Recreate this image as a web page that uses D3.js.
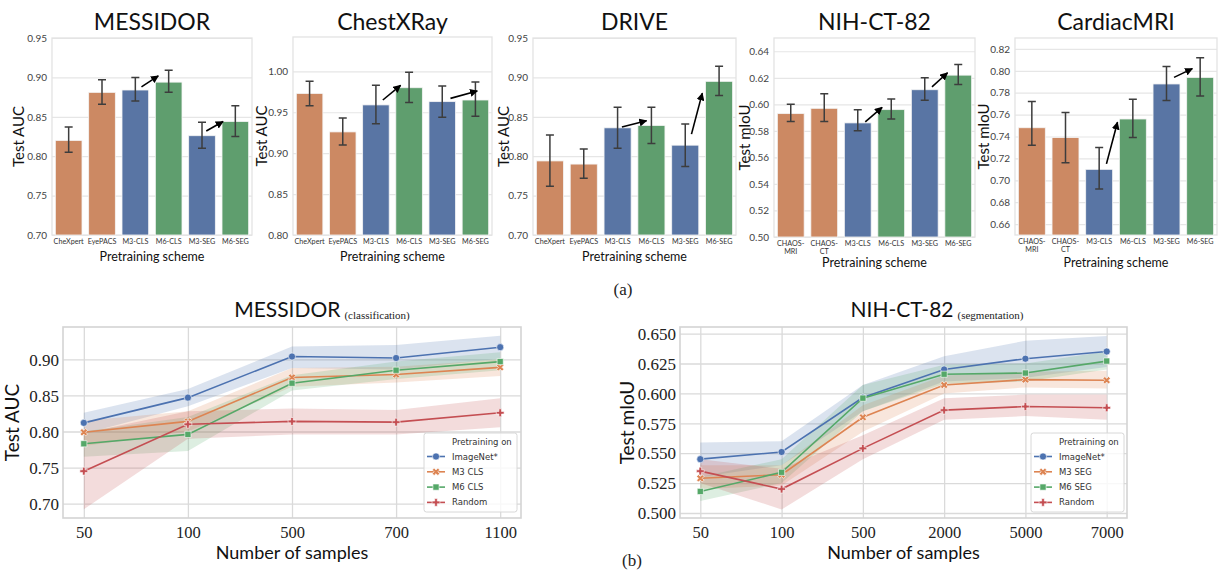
<!DOCTYPE html>
<html>
<head>
<meta charset="UTF-8">
<title>Pretraining charts</title>
<style>
  body { margin: 0; background: #fff; }
  svg { display: block; }
  .ttl { font-family: Lato, sans-serif; fill: #111; }
  .ser { font-family: "Liberation Serif", serif; fill: #222; }
  .ytk { font-family: Lato, sans-serif; font-size: 10px; fill: #444; }
  .xtk { font-family: Lato, sans-serif; font-size: 7.2px; fill: #333; }
  .lg { font-family: "DejaVu Sans", sans-serif; font-size: 8.5px; fill: #333; }
</style>
</head>
<body>
<svg width="1225" height="576"></svg>
<script src="https://d3js.org/d3.v7.min.js"></script>
<script>
// ---- top row: bar charts ----
const catsA = ["CheXpert", "EyePACS", "M3-CLS", "M6-CLS", "M3-SEG", "M6-SEG"];
const catsB = ["CHAOS-MRI", "CHAOS-CT", "M3-CLS", "M6-CLS", "M3-SEG", "M6-SEG"];

const messidorMean = [0.820, 0.881, 0.884, 0.894, 0.826, 0.844];
const messidorLo   = [0.805, 0.866, 0.870, 0.881, 0.810, 0.825];
const messidorHi   = [0.837, 0.897, 0.900, 0.909, 0.843, 0.864];

const chestMean = [0.973, 0.926, 0.959, 0.980, 0.963, 0.965];
const chestLo   = [0.958, 0.910, 0.936, 0.962, 0.944, 0.945];
const chestHi   = [0.988, 0.943, 0.983, 0.999, 0.982, 0.987];

const driveMean = [0.794, 0.790, 0.836, 0.839, 0.814, 0.895];
const driveLo   = [0.762, 0.772, 0.810, 0.816, 0.787, 0.877];
const driveHi   = [0.827, 0.809, 0.862, 0.862, 0.841, 0.914];

const nihMean = [0.593, 0.597, 0.586, 0.596, 0.611, 0.622];
const nihLo   = [0.587, 0.587, 0.580, 0.589, 0.603, 0.615];
const nihHi   = [0.600, 0.608, 0.596, 0.604, 0.620, 0.630];

const cardiacMean = [0.748, 0.739, 0.710, 0.756, 0.788, 0.794];
const cardiacLo   = [0.732, 0.716, 0.692, 0.739, 0.773, 0.777];
const cardiacHi   = [0.772, 0.762, 0.730, 0.774, 0.804, 0.812];

// arrows: [from, y0, to, y1, offset along bar from, offset to]
const messidorArrows = [["M3-CLS", 0.888, "M6-CLS", 0.902, 0.73, 0.11], ["M3-SEG", 0.832, "M6-SEG", 0.844, 0.66, 0.04]];
const chestArrows    = [["M3-CLS", 0.965, "M6-CLS", 0.983, 0.76, 0.18], ["M3-SEG", 0.967, "M6-SEG", 0.976, 0.81, 0.57]];
const driveArrows    = [["M3-CLS", 0.837, "M6-CLS", 0.845, 0.66, 0.32], ["M3-SEG", 0.828, "M6-SEG", 0.880, 0.73, -0.12]];
const nihArrows      = [["M3-CLS", 0.5868, "M6-CLS", 0.5977, 0.78, 0.16], ["M3-SEG", 0.6132, "M6-SEG", 0.6238, 0.77, 0.10]];
const cardiacArrows  = [["M3-CLS", 0.715, "M6-CLS", 0.753, 0.77, -0.07], ["M3-SEG", 0.794, "M6-SEG", 0.802, 0.78, 0.21]];

// ---- bottom row: line charts ----
const messidorLegend = ["ImageNet*", "M3 CLS", "M6 CLS", "Random"];
const nihLegend = ["ImageNet*", "M3 SEG", "M6 SEG", "Random"];

const messidorN = ["50", "100", "500", "700", "1100"];
const mImageNet = [0.812, 0.847, 0.904, 0.902, 0.917];
const mImageNetLo = [0.797, 0.835, 0.888, 0.886, 0.901];
const mImageNetHi = [0.826, 0.859, 0.918, 0.920, 0.933];
const mM3 = [0.799, 0.814, 0.875, 0.879, 0.889];
const mM3Lo = [0.780, 0.800, 0.862, 0.868, 0.877];
const mM3Hi = [0.815, 0.828, 0.888, 0.890, 0.900];
const mM6 = [0.783, 0.796, 0.867, 0.885, 0.897];
const mM6Lo = [0.765, 0.773, 0.857, 0.873, 0.885];
const mM6Hi = [0.800, 0.820, 0.878, 0.897, 0.910];
const mRandom = [0.745, 0.810, 0.814, 0.813, 0.826];
const mRandomLo = [0.692, 0.790, 0.796, 0.796, 0.806];
const mRandomHi = [0.798, 0.828, 0.832, 0.830, 0.846];

const nihN = ["50", "100", "500", "2000", "5000", "7000"];
const nImageNet = [0.545, 0.551, 0.5965, 0.620, 0.629, 0.635];
const nImageNetLo = [0.530, 0.540, 0.585, 0.610, 0.613, 0.622];
const nImageNetHi = [0.559, 0.560, 0.607, 0.631, 0.644, 0.648];
const nM3 = [0.529, 0.532, 0.580, 0.607, 0.6115, 0.611];
const nM3Lo = [0.520, 0.523, 0.568, 0.600, 0.605, 0.604];
const nM3Hi = [0.540, 0.540, 0.590, 0.615, 0.618, 0.619];
const nM6 = [0.518, 0.534, 0.596, 0.616, 0.617, 0.627];
const nM6Lo = [0.510, 0.525, 0.585, 0.608, 0.610, 0.620];
const nM6Hi = [0.530, 0.545, 0.607, 0.624, 0.625, 0.635];
const nRandom = [0.535, 0.520, 0.554, 0.586, 0.589, 0.588];
const nRandomLo = [0.525, 0.503, 0.545, 0.578, 0.581, 0.578];
const nRandomHi = [0.545, 0.537, 0.565, 0.596, 0.599, 0.599];

const svg = d3.select("svg");

// arrow head
svg.append("defs").append("marker")
  .attr("id", "ah").attr("viewBox", "0 0 10 10")
  .attr("refX", 9).attr("refY", 5)
  .attr("markerWidth", 5).attr("markerHeight", 5)
  .attr("orient", "auto")
  .append("path").attr("d", "M0,0L10,5L0,10z").attr("fill", "#000");

const barColor = c => c.startsWith("M3") ? "#5975a4" : c.startsWith("M6") ? "#5f9e6e" : "#cc8963";

function barPanel(p) {
  const x = d3.scaleBand().domain(p.cats).range([p.x0, p.x1]).paddingInner(0.2).paddingOuter(0.1);
  const y = d3.scaleLinear().domain(p.dom).range([p.y1, p.y0]);
  const g = svg.append("g");

  // grid
  g.append("g").attr("transform", `translate(${p.x0},0)`)
    .call(d3.axisLeft(y).tickValues(p.ticks).tickSize(-(p.x1 - p.x0)).tickFormat(d3.format(".2f")))
    .call(a => a.select(".domain").remove())
    .call(a => a.selectAll("line").attr("stroke", "#e6e6e6").attr("stroke-width", 1.2))
    .call(a => a.selectAll("text").attr("class", "ytk").attr("x", -5).attr("font-family", null).attr("font-size", null).attr("fill", null));

  g.append("rect").attr("x", p.x0).attr("y", p.y0).attr("width", p.x1 - p.x0).attr("height", p.y1 - p.y0)
    .attr("fill", "none").attr("stroke", "#e3e3e3").attr("stroke-width", 1.3);

  const rows = p.cats.map((c, i) => ({ c, m: p.mean[i], lo: p.lo[i], hi: p.hi[i] }));
  g.selectAll(".bar").data(rows).join("rect")
    .attr("x", d => x(d.c)).attr("width", x.bandwidth())
    .attr("y", d => y(d.m)).attr("height", d => y(p.dom[0]) - y(d.m))
    .attr("fill", d => barColor(d.c)).attr("stroke", "#f4f4f4").attr("stroke-width", 0.8);

  const cx = d => x(d.c) + x.bandwidth() / 2;
  g.selectAll(".eb").data(rows).join("path")
    .attr("d", d => `M${cx(d) - 4},${y(d.hi)}H${cx(d) + 4}M${cx(d)},${y(d.hi)}V${y(d.lo)}M${cx(d) - 4},${y(d.lo)}H${cx(d) + 4}`)
    .attr("stroke", "#3d3d3d").attr("stroke-width", 1.5).attr("fill", "none");

  g.selectAll(".ar").data(p.arrows).join("line")
    .attr("x1", d => x(d[0]) + d[4] * x.bandwidth()).attr("y1", d => y(d[1]))
    .attr("x2", d => x(d[2]) + d[5] * x.bandwidth()).attr("y2", d => y(d[3]))
    .attr("stroke", "#000").attr("stroke-width", 1.6).attr("marker-end", "url(#ah)");

  // x tick labels
  p.cats.forEach(c => {
    const parts = c.startsWith("CHAOS") ? ["CHAOS-", c.slice(6)] : [c];
    const t = g.append("text").attr("class", "xtk").attr("text-anchor", "middle")
      .attr("x", x(c) + x.bandwidth() / 2).attr("y", p.y1 + 8.5);
    parts.forEach((s, k) => t.append("tspan").attr("x", x(c) + x.bandwidth() / 2).attr("dy", k ? 8.5 : 0).text(s));
  });

  g.append("text").attr("class", "ttl").attr("text-anchor", "middle")
    .attr("x", (p.x0 + p.x1) / 2).attr("y", 30).attr("font-size", 23).text(p.title);
  g.append("text").attr("class", "ttl").attr("text-anchor", "middle")
    .attr("x", (p.x0 + p.x1) / 2).attr("y", p.xlabY).attr("font-size", 12.5).attr("fill", "#333").text("Pretraining scheme");
  g.append("text").attr("class", "ttl").attr("text-anchor", "middle")
    .attr("transform", `translate(${p.ylabX},${(p.y0 + p.y1) / 2}) rotate(-90)`)
    .attr("font-size", 15).attr("fill", "#333").text(p.ylab);
}

const ticksBy = (a, b, s) => d3.range(Math.round((b - a) / s) + 1).map(i => +(a + i * s).toFixed(3));

barPanel({ title: "MESSIDOR", cats: catsA, mean: messidorMean, lo: messidorLo, hi: messidorHi, arrows: messidorArrows,
  x0: 52, x1: 252, y0: 38, y1: 235, dom: [0.70, 0.95], ticks: ticksBy(0.70, 0.95, 0.05), ylab: "Test AUC", ylabX: 24, xlabY: 261 });
barPanel({ title: "ChestXRay", cats: catsA, mean: chestMean, lo: chestLo, hi: chestHi, arrows: chestArrows,
  x0: 293, x1: 492, y0: 37, y1: 235, dom: [0.80, 1.042], ticks: ticksBy(0.80, 1.00, 0.05), ylab: "Test AUC", ylabX: 267, xlabY: 261 });
barPanel({ title: "DRIVE", cats: catsA, mean: driveMean, lo: driveLo, hi: driveHi, arrows: driveArrows,
  x0: 533, x1: 736, y0: 38, y1: 235, dom: [0.70, 0.95], ticks: ticksBy(0.70, 0.95, 0.05), ylab: "Test AUC", ylabX: 509, xlabY: 261 });
barPanel({ title: "NIH-CT-82", cats: catsB, mean: nihMean, lo: nihLo, hi: nihHi, arrows: nihArrows,
  x0: 774, x1: 975, y0: 38, y1: 237, dom: [0.50, 0.65], ticks: ticksBy(0.50, 0.64, 0.02), ylab: "Test mIoU", ylabX: 750, xlabY: 267 });
barPanel({ title: "CardiacMRI", cats: catsB, mean: cardiacMean, lo: cardiacLo, hi: cardiacHi, arrows: cardiacArrows,
  x0: 1015, x1: 1217, y0: 38, y1: 235, dom: [0.65, 0.83], ticks: ticksBy(0.66, 0.82, 0.02), ylab: "Test mIoU", ylabX: 989, xlabY: 267 });

// ---- line panels ----
const lineColors = ["#4c72b0", "#dd8452", "#55a868", "#c44e52"];
const markerType = [d3.symbolCircle, d3.symbolCross, d3.symbolSquare, d3.symbolCross];
const markerRot = [0, 45, 0, 0];
const markerSize = [40, 34, 38, 34];

function symbolAt(g, i, cx, cy) {
  g.append("path").attr("d", d3.symbol().type(markerType[i]).size(markerSize[i])())
    .attr("transform", `translate(${cx},${cy}) rotate(${markerRot[i]})`)
    .attr("fill", lineColors[i]).attr("stroke", "#fff").attr("stroke-width", 0.6);
}

function linePanel(p) {
  const x = d3.scalePoint().domain(p.n).range([p.x0, p.x1]).padding(p.pad);
  const y = d3.scaleLinear().domain(p.dom).range([p.y1, p.y0]);
  const g = svg.append("g");

  g.append("g").attr("transform", `translate(${p.x0},0)`)
    .call(d3.axisLeft(y).tickValues(p.ticks).tickSize(-(p.x1 - p.x0)).tickFormat(d3.format(p.fmt)))
    .call(a => a.select(".domain").remove())
    .call(a => a.selectAll("line").attr("stroke", "#dadada").attr("stroke-width", 1.3))
    .call(a => a.selectAll("text").attr("class", "ser").attr("x", -4).attr("dy", "0.34em")
      .attr("font-family", null).attr("fill", null).attr("font-size", 17));
  g.append("g").attr("transform", `translate(0,${p.y1})`)
    .call(d3.axisBottom(x).tickSize(-(p.y1 - p.y0)))
    .call(a => a.select(".domain").remove())
    .call(a => a.selectAll("line").attr("stroke", "#dadada").attr("stroke-width", 1.3))
    .call(a => a.selectAll("text").attr("class", "ser").attr("y", 8).attr("dy", "0.71em")
      .attr("font-family", null).attr("fill", null).attr("font-size", 16.5));
  g.append("rect").attr("x", p.x0).attr("y", p.y0).attr("width", p.x1 - p.x0).attr("height", p.y1 - p.y0)
    .attr("fill", "none").attr("stroke", "#d4d4d4").attr("stroke-width", 1.6);

  const area = d3.area().x(d => x(d.n)).y0(d => y(d.lo)).y1(d => y(d.hi));
  const line = d3.line().x(d => x(d.n)).y(d => y(d.v));
  const sets = p.series.map(s => p.n.map((n, k) => ({ n, v: s[0][k], lo: s[1][k], hi: s[2][k] })));

  sets.forEach((pts, i) => g.append("path").attr("d", area(pts)).attr("fill", lineColors[i]).attr("fill-opacity", 0.2));
  sets.forEach((pts, i) => {
    g.append("path").attr("d", line(pts)).attr("fill", "none").attr("stroke", lineColors[i]).attr("stroke-width", 1.6);
    pts.forEach(d => symbolAt(g, i, x(d.n), y(d.v)));
  });

  // legend
  const lg = g.append("g").attr("transform", `translate(${p.lgX},${p.lgY})`);
  lg.append("rect").attr("width", 93).attr("height", 79).attr("rx", 2.5)
    .attr("fill", "#fff").attr("fill-opacity", 0.8).attr("stroke", "#d8d8d8").attr("stroke-width", 1);
  lg.append("text").attr("class", "lg").attr("x", 28).attr("y", 12).text("Pretraining on");
  p.legend.forEach((name, i) => {
    const yy = 23.5 + i * 15.3;
    lg.append("line").attr("x1", 3).attr("x2", 21).attr("y1", yy).attr("y2", yy)
      .attr("stroke", lineColors[i]).attr("stroke-width", 1.6);
    symbolAt(lg, i, 12, yy);
    lg.append("text").attr("class", "lg").attr("x", 28).attr("y", yy + 3).text(name);
  });

  const tt = g.append("text").attr("class", "ttl").attr("text-anchor", "middle")
    .attr("x", p.titleX).attr("y", 317);
  tt.append("tspan").attr("font-size", 21).text(p.title);
  tt.append("tspan").attr("class", "ser").attr("font-size", 11).attr("dx", 4).attr("dy", 1.5).text(p.sub);

  g.append("text").attr("class", "ttl").attr("text-anchor", "middle")
    .attr("x", (p.x0 + p.x1) / 2).attr("y", 559).attr("font-size", 18).attr("fill", "#333").text("Number of samples");
  g.append("text").attr("class", "ttl").attr("text-anchor", "middle")
    .attr("transform", `translate(${p.ylabX},${(p.y0 + p.y1) / 2}) rotate(-90)`)
    .attr("font-size", 19).attr("fill", "#333").text(p.ylab);
}

linePanel({ n: messidorN, pad: 0.2, x0: 63, x1: 521, y0: 327, y1: 518, dom: [0.68, 0.945],
  ticks: ticksBy(0.70, 0.90, 0.05), fmt: ".2f", ylab: "Test AUC", ylabX: 19,
  series: [[mImageNet, mImageNetLo, mImageNetHi], [mM3, mM3Lo, mM3Hi], [mM6, mM6Lo, mM6Hi], [mRandom, mRandomLo, mRandomHi]],
  legend: messidorLegend, lgX: 424, lgY: 433, title: "MESSIDOR", sub: "(classification)", titleX: 322 });

linePanel({ n: nihN, pad: 0.25, x0: 680, x1: 1127, y0: 327, y1: 518, dom: [0.4958, 0.6555],
  ticks: ticksBy(0.500, 0.650, 0.025), fmt: ".3f", ylab: "Test mIoU", ylabX: 634,
  series: [[nImageNet, nImageNetLo, nImageNetHi], [nM3, nM3Lo, nM3Hi], [nM6, nM6Lo, nM6Hi], [nRandom, nRandomLo, nRandomHi]],
  legend: nihLegend, lgX: 1031, lgY: 433, title: "NIH-CT-82", sub: "(segmentation)", titleX: 937 });

svg.append("text").attr("class", "ser").attr("text-anchor", "middle").attr("x", 623).attr("y", 295)
  .attr("font-size", 17).text("(a)");
svg.append("text").attr("class", "ser").attr("text-anchor", "middle").attr("x", 632).attr("y", 566)
  .attr("font-size", 17).text("(b)");
</script>
</body>
</html>
